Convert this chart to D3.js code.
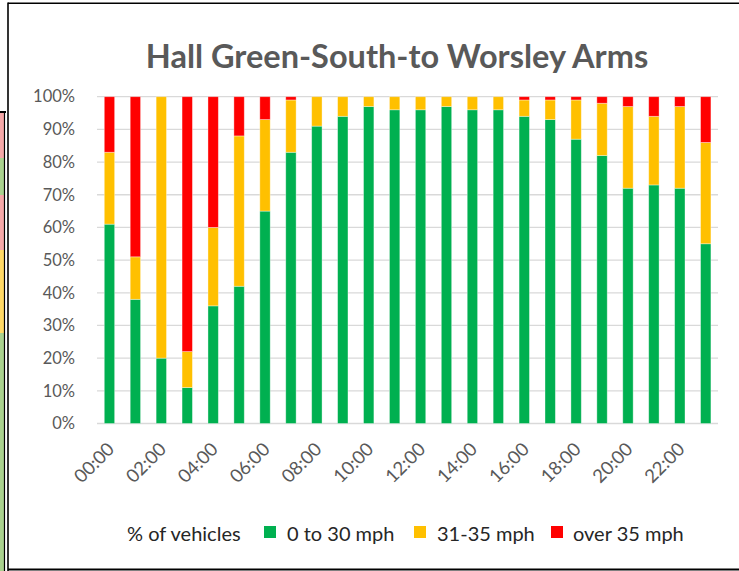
<!DOCTYPE html>
<html><head><meta charset="utf-8">
<script src="https://cdn.jsdelivr.net/npm/d3@7"></script>
<style>body{margin:0;background:#fff}svg{display:block}</style>
</head><body>
<script>
const hours = ["00:00","01:00","02:00","03:00","04:00","05:00","06:00","07:00","08:00","09:00","10:00","11:00","12:00","13:00","14:00","15:00","16:00","17:00","18:00","19:00","20:00","21:00","22:00","23:00"];
const slow   = [61,38,20,11,36,42,65,83,91,94,97,96,96,97,96,96,94,93,87,82,72,73,72,55];
const mid    = [22,13,80,11,24,46,28,16, 9, 6, 3, 4, 4, 3, 4, 4, 5, 6,12,16,25,21,25,31];
const fast   = [17,49, 0,78,40,12, 7, 1, 0, 0, 0, 0, 0, 0, 0, 0, 1, 1, 1, 2, 3, 6, 3,14];
const seriesNames = ["0 to 30 mph","31-35 mph","over 35 mph"];
const colors = ["#00B050","#FFC000","#FF0000"];
const yTicks = [0,10,20,30,40,50,60,70,80,90,100];
const xTickLabels = hours.filter((d,i)=>i%2===0);

const W=739,H=571;
const svg=d3.select("body").append("svg").attr("width",W).attr("height",H);
const font="Lato, 'Open Sans', sans-serif";

// neighbouring chart fragment at far left
const strip=[[113,158,"#F4A7A7"],[158,195,"#A9D18E"],[195,250,"#F4A7A7"],[250,333,"#FFD966"],[333,571,"#A9D18E"]];
strip.forEach(s=>svg.append("rect").attr("x",0).attr("y",s[0]).attr("width",4).attr("height",s[1]-s[0]).attr("fill",s[2]));
svg.append("line").attr("x1",0).attr("x2",6).attr("y1",112).attr("y2",112).attr("stroke","#000").attr("stroke-width",2);
svg.append("line").attr("x1",4.5).attr("x2",4.5).attr("y1",111).attr("y2",571).attr("stroke","#000").attr("stroke-width",1.2);

// frame
svg.append("line").attr("x1",8).attr("x2",739).attr("y1",3.3).attr("y2",3.3).attr("stroke","#000").attr("stroke-width",1.6);
svg.append("line").attr("x1",8).attr("x2",8).attr("y1",2.5).attr("y2",571).attr("stroke","#000").attr("stroke-width",1.6);
svg.append("line").attr("x1",8).attr("x2",739).attr("y1",569.5).attr("y2",569.5).attr("stroke","#000").attr("stroke-width",2);

svg.append("text").attr("x",397).attr("y",68).attr("text-anchor","middle")
  .attr("font-family",font).attr("font-weight","bold").attr("font-size",32.5).attr("fill","#595959")
  .text("Hall Green-South-to Worsley Arms");

const x=d3.scaleBand().domain(hours).range([96.5,718.7]).paddingInner(0.6).paddingOuter(0.3);
const y=d3.scaleLinear().domain([0,100]).range([423.5,96.7]);

const grid=svg.append("g");
yTicks.forEach(t=>grid.append("line").attr("x1",97).attr("x2",718).attr("y1",y(t)).attr("y2",y(t))
  .attr("stroke","#D9D9D9").attr("stroke-width",1.3));

const yAxis=svg.append("g").attr("transform","translate(97,0)")
  .call(d3.axisLeft(y).tickValues(yTicks).tickFormat(d=>d+"%").tickSize(0).tickPadding(22));
yAxis.select(".domain").remove();
yAxis.selectAll("text").attr("font-family",font).attr("font-size",16.5).attr("fill","#595959");

const data=hours.map((h,i)=>({h,s0:slow[i],s1:mid[i],s2:fast[i]}));
const stack=d3.stack().keys(["s0","s1","s2"])(data);
svg.append("g").selectAll("g").data(stack).join("g").attr("fill",(d,i)=>colors[i])
  .selectAll("rect").data(d=>d.filter(v=>v[1]-v[0]>0)).join("rect")
  .attr("x",d=>x(d.data.h)).attr("width",x.bandwidth())
  .attr("y",d=>y(d[1])).attr("height",d=>y(d[0])-y(d[1]))
  .attr("stroke","rgba(255,255,255,0.45)").attr("stroke-width",0.8);

const xAxis=svg.append("g").attr("transform","translate(0,423.5)")
  .call(d3.axisBottom(x).tickValues(xTickLabels).tickSize(0).tickPadding(0));
xAxis.select(".domain").remove();
xAxis.selectAll("text").attr("font-family",font).attr("font-size",18.5).attr("fill","#595959")
  .attr("text-anchor","end").attr("dy",null).attr("dx",null)
  .attr("transform","translate(6,27) rotate(-45)");

// legend
const lg=svg.append("g").attr("font-family",font).attr("font-size",20).attr("fill","#262626");
lg.append("text").attr("x",127).attr("y",541).text("% of vehicles");
const lx=[264,414,551];
const tx=[287,437,573];
seriesNames.forEach((n,i)=>{
  lg.append("rect").attr("x",lx[i]).attr("y",526).attr("width",12).attr("height",12).attr("fill",colors[i]);
  lg.append("text").attr("x",tx[i]).attr("y",541).text(n);
});
</script>
</body></html>
